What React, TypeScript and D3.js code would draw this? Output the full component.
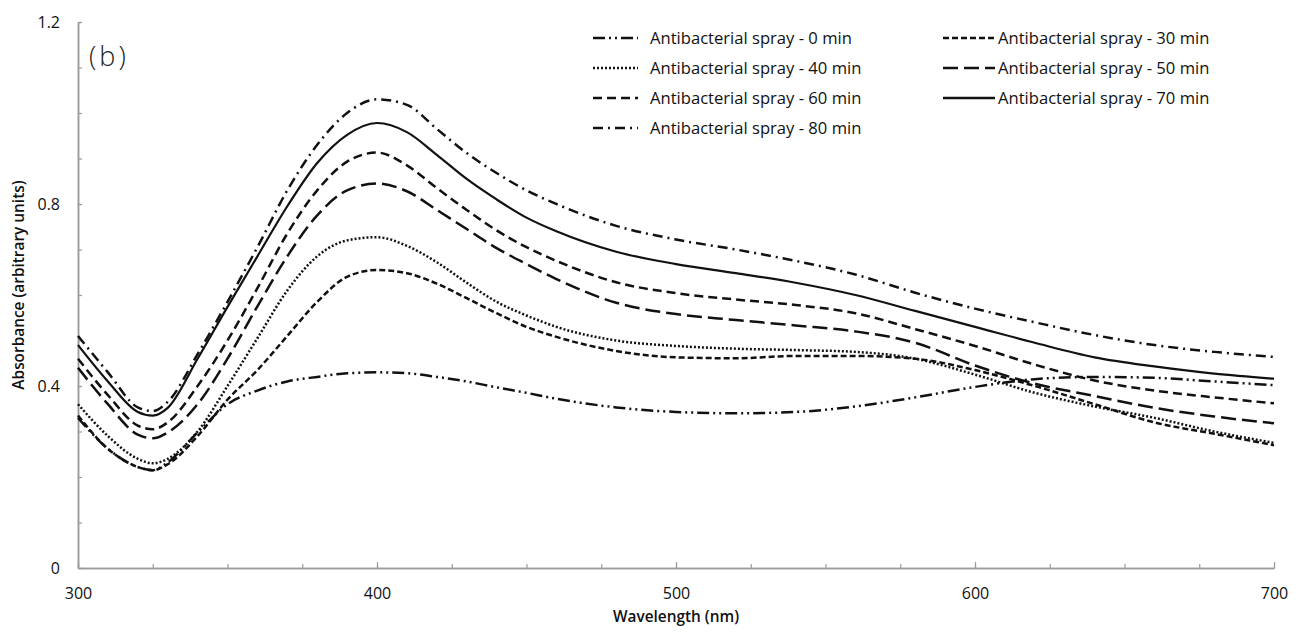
import React, { useEffect, useRef } from "react";
import * as d3 from "d3";

// wavelength grid (nm) the curves were read at
const wavelengths = [300, 310, 320, 325, 330, 340, 350, 360, 370, 380, 390, 400, 410, 420, 430, 440, 450, 460, 480, 500, 520, 540, 560, 580, 600, 620, 640, 660, 680, 700];

const spray0 = [0.33, 0.262, 0.222, 0.215, 0.232, 0.298, 0.36, 0.39, 0.41, 0.42, 0.428, 0.43, 0.428, 0.42, 0.41, 0.397, 0.385, 0.372, 0.353, 0.343, 0.34, 0.343, 0.355, 0.375, 0.398, 0.415, 0.42, 0.418, 0.41, 0.402];
const spray30 = [0.335, 0.262, 0.222, 0.215, 0.228, 0.29, 0.37, 0.435, 0.51, 0.585, 0.64, 0.655, 0.648, 0.625, 0.593, 0.56, 0.53, 0.508, 0.477, 0.463, 0.461, 0.466, 0.466, 0.46, 0.435, 0.40, 0.36, 0.32, 0.295, 0.27];
const spray40 = [0.36, 0.29, 0.24, 0.23, 0.24, 0.30, 0.40, 0.505, 0.61, 0.685, 0.72, 0.727, 0.708, 0.672, 0.627, 0.585, 0.555, 0.53, 0.50, 0.488, 0.482, 0.479, 0.475, 0.46, 0.425, 0.385, 0.355, 0.33, 0.30, 0.275];
const spray50 = [0.44, 0.36, 0.293, 0.285, 0.298, 0.36, 0.46, 0.575, 0.685, 0.775, 0.83, 0.845, 0.828, 0.787, 0.745, 0.703, 0.668, 0.635, 0.583, 0.558, 0.545, 0.533, 0.52, 0.495, 0.445, 0.405, 0.378, 0.352, 0.333, 0.318];
const spray60 = [0.46, 0.38, 0.313, 0.305, 0.32, 0.40, 0.50, 0.615, 0.735, 0.83, 0.893, 0.913, 0.885, 0.835, 0.787, 0.742, 0.705, 0.675, 0.628, 0.604, 0.59, 0.578, 0.56, 0.525, 0.488, 0.447, 0.412, 0.39, 0.375, 0.362];
const spray70 = [0.49, 0.41, 0.343, 0.335, 0.352, 0.46, 0.574, 0.685, 0.795, 0.89, 0.952, 0.978, 0.958, 0.908, 0.855, 0.81, 0.77, 0.74, 0.695, 0.668, 0.648, 0.627, 0.60, 0.565, 0.53, 0.495, 0.463, 0.443, 0.427, 0.416];
const spray80 = [0.51, 0.43, 0.353, 0.345, 0.365, 0.47, 0.585, 0.705, 0.83, 0.93, 1.0, 1.03, 1.018, 0.965, 0.912, 0.868, 0.83, 0.80, 0.752, 0.722, 0.70, 0.675, 0.645, 0.605, 0.57, 0.54, 0.512, 0.49, 0.475, 0.464];

const seriesNames = [
  "Antibacterial spray - 0 min",
  "Antibacterial spray - 30 min",
  "Antibacterial spray - 40 min",
  "Antibacterial spray - 50 min",
  "Antibacterial spray - 60 min",
  "Antibacterial spray - 70 min",
  "Antibacterial spray - 80 min",
];
const seriesValues = [spray0, spray30, spray40, spray50, spray60, spray70, spray80];
const dashes = ["12,4,2,4,2,4", "6,3", "2,2", "15,6", "9,5", "", "10,5,2,5"];

const yLabels = [0, 0.4, 0.8, 1.2];
const xLabels = [300, 400, 500, 600, 700];

export default function App() {
  const ref = useRef<SVGSVGElement>(null);

  useEffect(() => {
    const svg = d3.select(ref.current);
    svg.selectAll("*").remove();

    const font = "'Open Sans', sans-serif";
    const x = d3.scaleLinear().domain([300, 700]).range([78, 1274]);
    const y = d3.scaleLinear().domain([0, 1.2]).range([568, 22]);

    // y axis: minor ticks every 0.1, labels every 0.4
    const yMinor = svg.append("g").attr("transform", "translate(78,0)")
      .call(d3.axisLeft(y).tickValues(d3.range(0, 1.21, 0.1)).tickSizeInner(-4).tickSizeOuter(0).tickFormat(() => ""));
    const yMajor = svg.append("g").attr("transform", "translate(78,0)")
      .call(d3.axisLeft(y).tickValues(yLabels).tickSizeInner(-4).tickSizeOuter(0).tickPadding(18)
        .tickFormat((d: any) => (d === 0 ? "0" : d3.format(".1f")(d))));

    // x axis: minor ticks every 25 nm
    const xMinor = svg.append("g").attr("transform", "translate(0,568)")
      .call(d3.axisBottom(x).tickValues(d3.range(300, 701, 25)).tickSizeInner(-4).tickSizeOuter(0).tickFormat(() => ""));
    const xMajor = svg.append("g").attr("transform", "translate(0,568)")
      .call(d3.axisBottom(x).tickValues(xLabels).tickSizeInner(-6).tickSizeOuter(0).tickPadding(20)
        .tickFormat((d: any) => String(d)));

    [yMinor, yMajor, xMinor, xMajor].forEach((g) => {
      g.select(".domain").attr("stroke", "#9a9a9a").attr("stroke-width", 1.5);
      g.selectAll(".tick line").attr("stroke", "#9a9a9a").attr("stroke-width", 1.2);
      g.selectAll(".tick text").attr("font-family", font).attr("font-size", 16).attr("fill", "#111");
    });

    // curves
    const line = d3.line<number>()
      .x((_, i) => x(wavelengths[i]))
      .y((d) => y(d))
      .curve(d3.curveMonotoneX);

    seriesValues.forEach((vals, i) => {
      svg.append("path")
        .datum(vals)
        .attr("fill", "none")
        .attr("stroke", "#111")
        .attr("stroke-width", i === 5 ? 2.2 : 2.5)
        .attr("stroke-dasharray", dashes[i] || null)
        .attr("d", line);
    });

    // legend, two columns
    const legend = svg.append("g");
    seriesNames.forEach((name, i) => {
      const col = i % 2 === 0 ? 0 : 1;
      const row = Math.floor(i / 2);
      const x0 = col === 0 ? 593 : 943;
      const len = col === 0 ? 45 : 52;
      const ty = 38 + row * 30;
      legend.append("line")
        .attr("x1", x0).attr("x2", x0 + len)
        .attr("y1", ty).attr("y2", ty)
        .attr("stroke", "#111").attr("stroke-width", 2.5)
        .attr("stroke-dasharray", dashes[i] || null);
      legend.append("text")
        .attr("x", col === 0 ? 650 : 998).attr("y", ty)
        .attr("dy", "0.35em")
        .attr("font-family", font).attr("font-size", 16.6)
        .attr("fill", "#111")
        .text(name);
    });

    // panel letter
    svg.append("text")
      .attr("x", 89).attr("y", 66)
      .attr("font-family", font).attr("font-size", 27).attr("font-weight", 300)
      .attr("letter-spacing", 3)
      .attr("fill", "#222")
      .text("(b)");

    // axis titles
    svg.append("text")
      .attr("transform", "translate(19,285) rotate(-90)")
      .attr("text-anchor", "middle").attr("dy", "0.35em")
      .attr("font-family", font).attr("font-size", 15.4).attr("font-weight", 600)
      .attr("fill", "#111")
      .text("Absorbance (arbitrary units)");
    svg.append("text")
      .attr("x", 676).attr("y", 617)
      .attr("text-anchor", "middle").attr("dy", "0.35em")
      .attr("font-family", font).attr("font-size", 15.4).attr("font-weight", 600)
      .attr("fill", "#111")
      .text("Wavelength (nm)");
  }, []);

  return (
    <svg ref={ref} width={1304} height={635}
      style={{ position: "absolute", left: 0, top: 0, background: "#fff" }} />
  );
}
